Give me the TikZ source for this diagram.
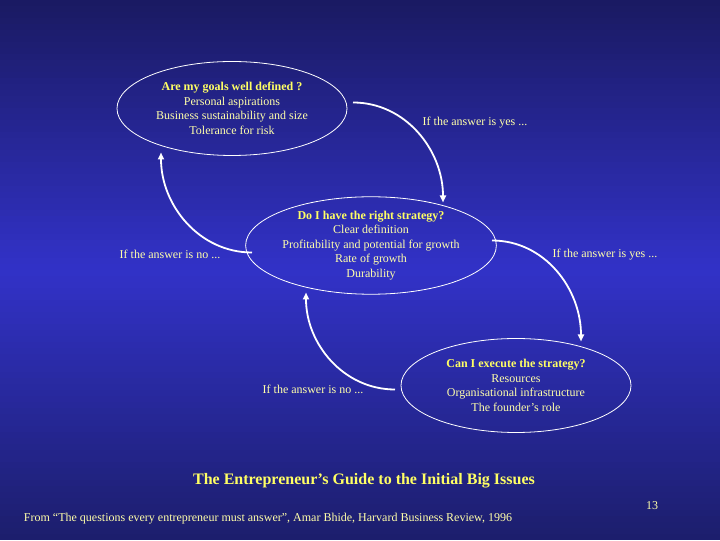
\documentclass[tikz,border=0pt]{standalone}
\usepackage{fontspec}
\setmainfont{Liberation Serif}
\usetikzlibrary{positioning, shapes.geometric, arrows.meta}

\definecolor{bgtop}{RGB}{26,26,98}
\definecolor{bgmid}{RGB}{50,50,200}
\definecolor{bgbot}{RGB}{28,30,108}
\definecolor{paleyellow}{RGB}{255,255,170}
\definecolor{qyellow}{RGB}{255,255,100}

\begin{document}
\begin{tikzpicture}[x=1pt, y=1pt,
    every node/.style={font=\fontsize{12}{14.5}\selectfont, text=paleyellow},
    issue/.style={draw=white, line width=0.8pt, ellipse, minimum width=230pt, minimum height=94pt, inner sep=0pt, align=center},
    flow/.style={draw=white, line width=1.8pt, -{Triangle[length=7pt, width=6pt]}},
    answer/.style={inner sep=0pt},
    quest/.style={font=\fontsize{12}{14.5}\selectfont\bfseries, text=qyellow},
]

% ── Background ───────────────────────────────────────────────────────────────
\foreach \i in {0,...,89} {
    \pgfmathtruncatemacro\p{100*(1-abs(6*\i+3-270)/270)}
    \ifnum\i<45
        \fill[bgmid!\p!bgbot] (0,6*\i) rectangle (720,6*\i+6.5);
    \else
        \fill[bgmid!\p!bgtop] (0,6*\i) rectangle (720,6*\i+6.5);
    \fi
}
\useasboundingbox (0,0) rectangle (720,540);

% ── The three questions ──────────────────────────────────────────────────────
\node[issue] (goals) at (232,432) {\textbf{\color{qyellow}Are my goals well defined ?}\\Personal aspirations\\Business sustainability and size\\Tolerance for risk};
\node[issue] (strategy) at (371,295) {\textbf{\color{qyellow}Do I have the right strategy?}\\Clear definition\\Profitability and potential for growth\\Rate of growth\\Durability};
\node[issue] (execute) at (516,155) {\textbf{\color{qyellow}Can I execute the strategy?}\\Resources\\Organisational infrastructure\\The founder’s role};

% ── Answers ──────────────────────────────────────────────────────────────────
\draw[flow] ([shift={(121pt,6pt)}]goals.center) to[out=0, in=90] ([shift={(72pt,43pt)}]strategy.center);
\draw[flow] ([shift={(-119pt,-7pt)}]strategy.center) to[out=180, in=-90] ([shift={(-71pt,-44pt)}]goals.center);
\draw[flow] ([shift={(121pt,5pt)}]strategy.center) to[out=0, in=90] ([shift={(65pt,44pt)}]execute.center);
\draw[flow] ([shift={(-121pt,-4pt)}]execute.center) to[out=180, in=-90] ([shift={(-65pt,-47pt)}]strategy.center);

\node[answer] (yes1) at (475,418) {If the answer is yes ...};
\node[answer] (no1)  at (170,286) {If the answer is no ...};
\node[answer] (yes2) at (605,286) {If the answer is yes ...};
\node[answer] (no2)  at (313,151) {If the answer is no ...};

% ── Title and source ─────────────────────────────────────────────────────────
\node[quest, font=\fontsize{16}{19}\selectfont\bfseries] (title) at (364,60) {The Entrepreneur’s Guide to the Initial Big Issues};
\node[answer] (source) at (268,22) {From “The questions every entrepreneur must answer”, Amar Bhide, Harvard Business Review, 1996};
\node[answer] (page) at (652,35) {13};

\end{tikzpicture}
\end{document}
